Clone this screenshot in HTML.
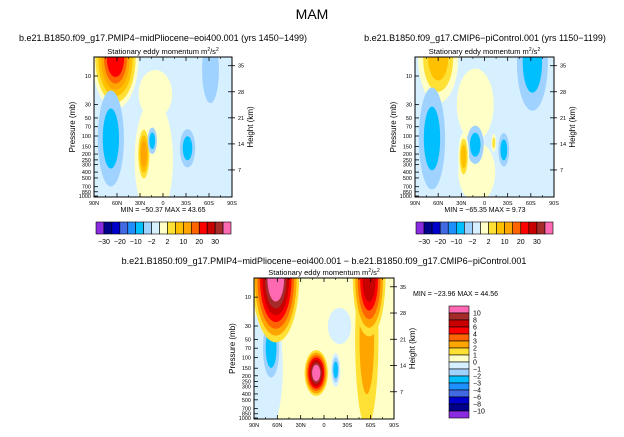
<!DOCTYPE html>
<html><head><meta charset="utf-8"><style>
html,body{margin:0;padding:0;background:#fff;}
svg{display:block;font-family:"Liberation Sans",sans-serif;}
</style></head><body>
<svg id="s" width="624" height="437" viewBox="0 0 624 437" xmlns="http://www.w3.org/2000/svg">
<text x="312" y="19" font-size="14" text-anchor="middle">MAM</text>
<text x="163" y="41" font-size="9" text-anchor="middle">b.e21.B1850.f09_g17.PMIP4−midPliocene−eoi400.001 (yrs 1450−1499)</text>
<text x="485" y="41" font-size="9" text-anchor="middle">b.e21.B1850.f09_g17.CMIP6−piControl.001 (yrs 1150−1199)</text>
<text x="324" y="264" font-size="9" text-anchor="middle">b.e21.B1850.f09_g17.PMIP4−midPliocene−eoi400.001 − b.e21.B1850.f09_g17.CMIP6−piControl.001</text>
</svg>
<script>
// ---- data ----
const latTicks = [90,60,30,0,-30,-60,-90];
const latTickLabels = ['90N','60N','30N','0','30S','60S','90S'];
const presTicks = [10,30,50,70,100,150,200,250,300,400,500,700,850,1000];
const heightTicks = [35,28,21,14,7];
const topColors = ['#8a2be2','#00008b','#0000cd','#4169e1','#1e90ff','#00bfff','#a0d2ff','#d7f0ff','#ffffc8','#ffe135','#ffc000','#ffa500','#ff6400','#ff0000','#c80000','#a52a2a','#ff69b4'];
const topBarLabels = ['−30','−20','−10','−2','2','10','20','30'];
const diffColors = ['#8a2be2','#00008b','#0000cd','#4169e1','#1e90ff','#00bfff','#a0d2ff','#d7f0ff','#ffffc8','#ffe135','#ffa500','#ff6400','#ff0000','#c80000','#a52a2a','#ff69b4'];
const diffBarLabels = ['10','8','6','4','3','2','1','0','−1','−2','−3','−4','−6','−8','−10'];
// panel A blobs
const aLat = [12,10,62,68,25,14,-32,-62];
const aPres = [250,20,5,110,200,120,160,8];
const aLatW = [25,22,30,17,9,6,10,11];
const aDec = [1.0,0.4,0.85,0.8,0.5,0.22,0.32,0.55];
const aLevel = [8,8,13,5,11,5,5,6];
// panel B blobs
const bLat = [12,10,60,-62,68,12,-25,27,-12];
const bPres = [30,400,5,6,110,140,170,220,130];
const bLatW = [24,24,26,20,17,11,7,7,3];
const bDec = [0.6,0.5,0.75,0.8,0.85,0.32,0.28,0.4,0.15];
const bLevel = [8,8,10,5,5,5,5,10,9];
// panel C (difference) blobs
const cLat = [75,-20,-55,68,62,-58,10,-15];
const cPres = [150,30,50,70,5,5,180,160];
const cLatW = [22,15,15,14,30,21,15,6];
const cDec = [1.1,0.3,1.45,0.65,1.05,0.95,0.38,0.28];
const cLevel = [7,7,10,5,15,13,15,5];

const NS='http://www.w3.org/2000/svg';
const svg=document.getElementById('s');
function el(tag,attrs,parent){const e=document.createElementNS(NS,tag);for(const k in attrs)e.setAttribute(k,attrs[k]);(parent||svg).appendChild(e);return e;}

function panel(id,x0,x1,y0,y1,bg,colors,lats,pres,latw,dec,lev,minmax){
  const g=el('g',{});
  
  
  const ppd=60*(y1-y0)/140;
  const xs=lat=>x0+(90-lat)/180*(x1-x0);
  const ys=p=>(y1-1)-(3-Math.log10(p))*ppd;
  const cp=el('clipPath',{id:'cp'+id},g);
  el('rect',{x:x0,y:y0,width:x1-x0,height:y1-y0},cp);
  const bgr=el('rect',{x:x0,y:y0,width:x1-x0,height:y1-y0,fill:colors[bg]},g);
  
  
  const cg=el('g',{'clip-path':'url(#cp'+id+')'},g);
  for(let i=0;i<lats.length;i++){
    const n=Math.abs(lev[i]-bg), dir=lev[i]>bg?1:-1;
    const cx=xs(lats[i]), cy=ys(pres[i]);
    const rx=latw[i]/180*(x1-x0), ry=dec[i]*ppd;
    for(let k=1;k<=n;k++){
      const f=1-(k-1)/n*0.75;
      const e=el('ellipse',{cx:cx,cy:cy,rx:rx*f,ry:ry*f,fill:colors[bg+dir*k]},cg);
      
      
    }
  }
  const fr=el('rect',{x:x0,y:y0,width:x1-x0,height:y1-y0,fill:'none',stroke:'#000','stroke-width':1},g);
  
  
  latTicks.forEach((t,i)=>{
    const x=xs(t);
    el('line',{x1:x,y1:y1,x2:x,y2:y1-4,stroke:'#000','stroke-width':0.8},g);
    el('line',{x1:x,y1:y0,x2:x,y2:y0+4,stroke:'#000','stroke-width':0.8},g);
    const tl=el('text',{x:x,y:y1+8,'font-size':5.5,'text-anchor':'middle'},g);
    tl.textContent=latTickLabels[i];
    
    
  });
  for(let t=-75;t<=75;t+=30){const x=xs(t);
    el('line',{x1:x,y1:y1,x2:x,y2:y1-2,stroke:'#000','stroke-width':0.6},g);
    el('line',{x1:x,y1:y0,x2:x,y2:y0+2,stroke:'#000','stroke-width':0.6},g);}
  presTicks.forEach(p=>{
    const y=ys(p);
    el('line',{x1:x0,y1:y,x2:x0+4,y2:y,stroke:'#000','stroke-width':0.8},g);
    const tl=el('text',{x:x0-3,y:y+2,'font-size':5.5,'text-anchor':'end'},g);
    tl.textContent=p;
    
    
  });
  heightTicks.forEach(h=>{
    const y=ys(1000*Math.exp(-h/7));
    el('line',{x1:x1,y1:y,x2:x1-4,y2:y,stroke:'#000','stroke-width':0.8},g);
    el('line',{x1:x1,y1:y,x2:x1+3,y2:y,stroke:'#000','stroke-width':0.8},g);
    const tl=el('text',{x:x1+6,y:y+2,'font-size':5.5},g);
    tl.textContent=h;
    
    
  });
  const yt=el('text',{x:x0-19,y:(y0+y1)/2,'font-size':8,'text-anchor':'middle',transform:'rotate(-90 '+(x0-19)+' '+(y0+y1)/2+')'},g);
  yt.textContent='Pressure (mb)';
  
  
  const ht=el('text',{x:x1+21,y:(y0+y1)/2,'font-size':8,'text-anchor':'middle',transform:'rotate(-90 '+(x1+21)+' '+(y0+y1)/2+')'},g);
  ht.textContent='Height (km)';
  
  
  const st=el('text',{x:(x0+x1)/2,y:y0-3,'font-size':7.5,'text-anchor':'middle'},g);
  st.innerHTML='Stationary eddy momentum  m<tspan font-size="5" dy="-3">2</tspan><tspan dy="3">/s</tspan><tspan font-size="5" dy="-3">2</tspan>';
  
  
  if(minmax){
    const mm=el('text',{x:minmax[0],y:minmax[1],'font-size':7,'text-anchor':minmax[3]},g);
    mm.textContent=minmax[2];
    
    
  }
}
panel('pliocene',94,232,57,197,7,topColors,aLat,aPres,aLatW,aDec,aLevel,[163,212,'MIN = −50.37   MAX =  43.65','middle']);
panel('picontrol',415,554,57,197,7,topColors,bLat,bPres,bLatW,bDec,bLevel,[485,212,'MIN = −65.35   MAX =   9.73','middle']);
panel('difference',254,394,278,419,8,diffColors,cLat,cPres,cLatW,cDec,cLevel,[413,296,'MIN = −23.96   MAX =  44.56','start']);

function hbar(id,x0,y0,w,h){
  const g=el('g',{});
  
  
  const bw=w/topColors.length;
  topColors.forEach((c,i)=>{const r=el('rect',{x:x0+i*bw,y:y0,width:bw,height:h,fill:c,stroke:'#000','stroke-width':0.6},g);
    });
  topBarLabels.forEach((l,i)=>{const t=el('text',{x:x0+(1+2*i)*bw,y:y0+h+10,'font-size':7,'text-anchor':'middle'},g);
    t.textContent=l;});
}
hbar('pliocene',96,222,135,12);
hbar('picontrol',416,222,137,12);
(function(){
  const g=el('g',{});
  
  
  const x0=449,y0=306,w=20,bh=7;
  const n=diffColors.length;
  for(let i=0;i<n;i++){const r=el('rect',{x:x0,y:y0+i*bh,width:w,height:bh,fill:diffColors[n-1-i],stroke:'#000','stroke-width':0.6},g);
    }
  diffBarLabels.forEach((l,i)=>{const t=el('text',{x:x0+w+4,y:y0+(i+1)*bh+2.5,'font-size':7},g);
    t.textContent=l;});
})();
</script>
</body></html>
